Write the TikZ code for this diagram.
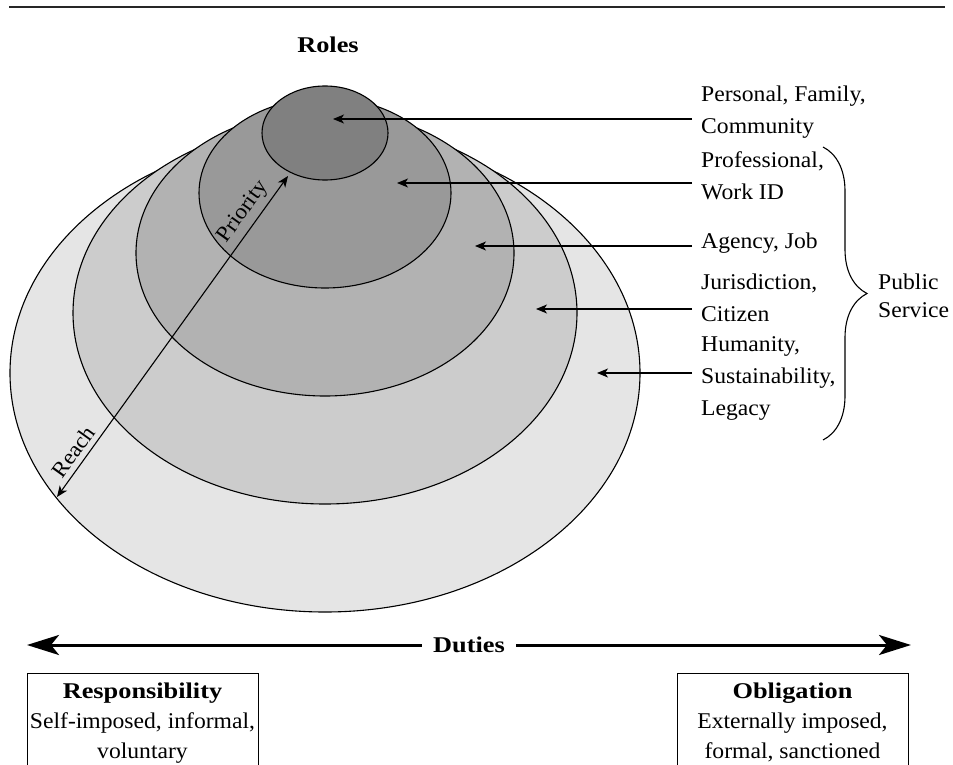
\documentclass[tikz,border=0pt]{standalone}
\usepackage{fontspec}
\setmainfont{Liberation Serif}[FakeStretch=1.05]
\newfontfamily\hdrfont{Liberation Serif}[FakeStretch=1.17]
\usetikzlibrary{arrows.meta,decorations.pathreplacing}
\definecolor{ringA}{gray}{0.90}
\definecolor{ringB}{gray}{0.80}
\definecolor{ringC}{gray}{0.70}
\definecolor{ringD}{gray}{0.60}
\definecolor{ringE}{gray}{0.50}
\begin{document}
\begin{tikzpicture}[x=1pt,y=-1pt,
  ring/.style={draw=black,line width=1.1pt},
  lbl/.style={font=\fontsize{22.5}{32}\selectfont,align=left,anchor=west,inner sep=0pt},
  ptr/.style={-{Stealth[length=11pt,width=9pt,inset=3pt]},line width=1.1pt},
  dimarrow/.style={{Stealth[length=11pt,width=9pt,inset=3pt]}-{Stealth[length=11pt,width=9pt,inset=3pt]},line width=1.1pt},
  rot/.style={font=\fontsize{22}{28}\selectfont,sloped,inner sep=2pt,above=3pt},
  hdr/.style={font=\fontsize{22.5}{28}\selectfont\hdrfont\bfseries},
  dutybox/.style={draw=black,line width=1pt,minimum width=231pt,anchor=north,align=center,inner ysep=9pt,inner xsep=2pt,font=\fontsize{22.5}{30}\selectfont},
  bigtip/.style={{Stealth[length=32pt,width=20pt,inset=8pt]}-{Stealth[length=32pt,width=20pt,inset=8pt]},line width=3pt}
]
\clip (0,0) rectangle (953,765);
\fill[white] (0,0) rectangle (953,765);
\draw[line width=2pt,black!85] (9,7) -- (945,7);

\node[hdr] (roles) at (328,45) {Roles};

% nested rings
\path[ring,fill=ringA] (325,373) ellipse [x radius=315,y radius=239];
\path[ring,fill=ringB] (325,313) ellipse [x radius=252,y radius=191];
\path[ring,fill=ringC] (325,253) ellipse [x radius=189,y radius=143];
\path[ring,fill=ringD] (325,193) ellipse [x radius=126,y radius=95];
\path[ring,fill=ringE] (325,133) ellipse [x radius=63,y radius=47];

% labels
\node[lbl] (lP) at (701,112) {Personal, Family,\\Community};
\node[lbl] (lW) at (701,176) {Professional,\\Work ID};
\node[lbl] (lA) at (701,243) {Agency, Job};
\node[lbl] (lJ) at (701,298) {Jurisdiction,\\Citizen};
\node[lbl] (lH) at (701,378) {Humanity,\\Sustainability,\\Legacy};
\node[lbl,font=\fontsize{22.5}{28}\selectfont] (pub) at (878,296) {Public\\Service};

% pointers
\coordinate (sP) at (692,119); \coordinate (tP) at (333,119);
\coordinate (sW) at (692,183); \coordinate (tW) at (397,183);
\coordinate (sA) at (692,246); \coordinate (tA) at (475,246);
\coordinate (sJ) at (692,309); \coordinate (tJ) at (536,309);
\coordinate (sH) at (692,373); \coordinate (tH) at (597,373);
\draw[ptr] (sP) -- (tP);
\draw[ptr] (sW) -- (tW);
\draw[ptr] (sA) -- (tA);
\draw[ptr] (sJ) -- (tJ);
\draw[ptr] (sH) -- (tH);

% brace
\coordinate (bT) at (823,147);
\coordinate (bB) at (823,440);
\draw[line width=1.1pt,decorate,decoration={brace,amplitude=44pt}] (bT) -- (bB);

% priority / reach
\coordinate (rTip) at (57,497);
\coordinate (pTip) at (288,176);
\draw[dimarrow] (rTip) -- (pTip) node[rot,pos=0.86] (prio) {Priority} node[rot,pos=0.117] (reach) {Reach};

% duties
\coordinate (dL) at (27,645);
\coordinate (dR) at (911,645);
\draw[bigtip] (dL) -- (dR);
\node[hdr,fill=white,inner xsep=11pt,inner ysep=2pt] (duties) at (469,645) {Duties};

% boxes
\node[dutybox] (resp) at (142.5,673) {{\hdrfont\bfseries Responsibility}\\Self-imposed, informal,\\voluntary};
\node[dutybox] (oblig) at (792.5,673) {{\hdrfont\bfseries Obligation}\\Externally imposed,\\formal, sanctioned};
\end{tikzpicture}
\end{document}
